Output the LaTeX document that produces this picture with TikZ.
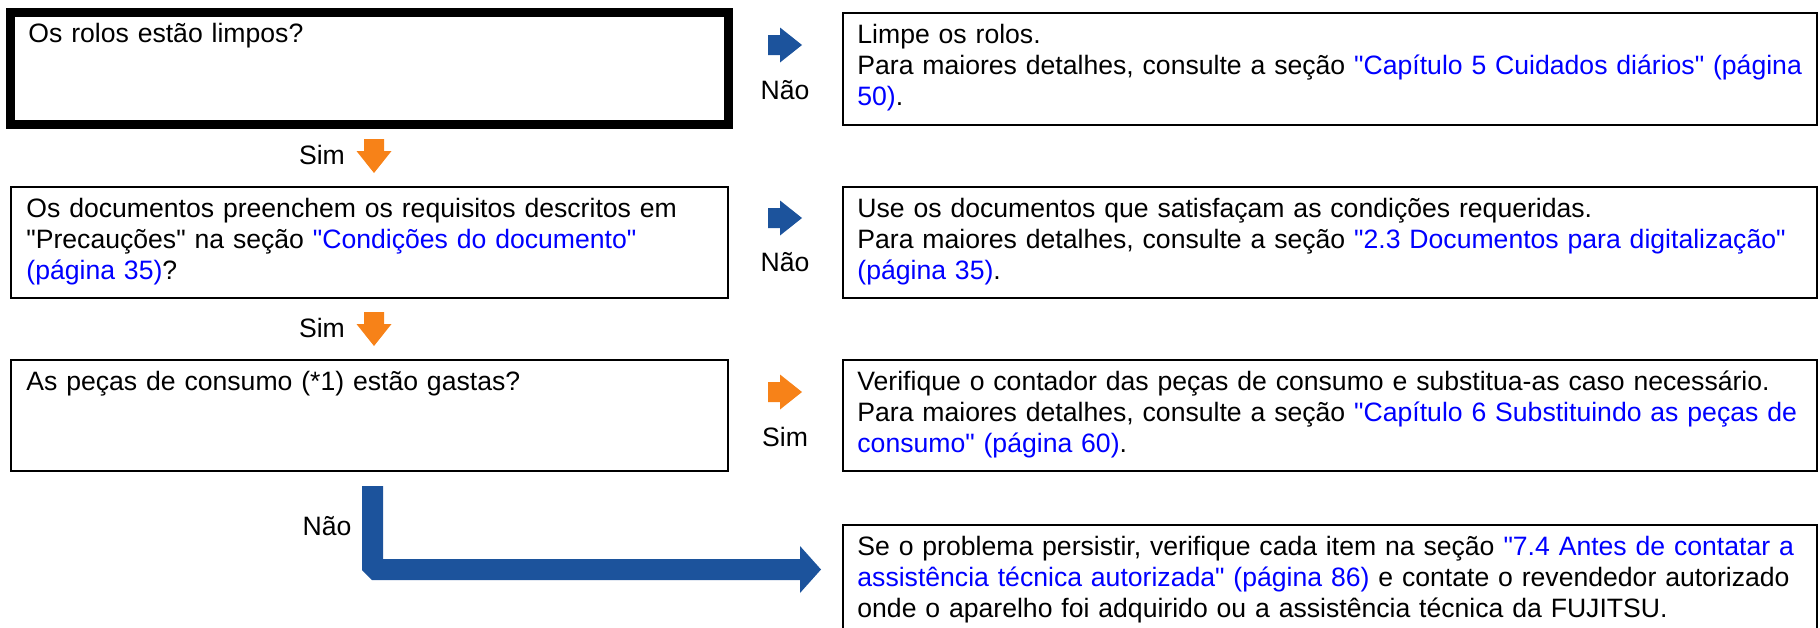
\documentclass[tikz,border=0pt]{standalone}
\usepackage{fontspec}
\setmainfont{Liberation Sans}
\usetikzlibrary{positioning,calc}
\definecolor{linkblue}{RGB}{0,0,255}
\definecolor{arrblue}{RGB}{28,83,156}
\definecolor{arrorange}{RGB}{247,130,24}
\newcommand{\lnk}[1]{\textcolor{linkblue}{#1}}
\newcommand{\dq}{\textquotedbl}

\begin{document}
\begin{tikzpicture}[x=0.5pt, y=-0.5pt,
  qbox/.style={draw, line width=1.1pt, inner sep=0pt, outer sep=0pt, anchor=north west, minimum width=358.5pt, minimum height=55.5pt},
  abox/.style={draw, line width=1.1pt, inner sep=0pt, outer sep=0pt, anchor=north west, minimum width=487pt, minimum height=55.5pt},
  txt/.style={anchor=base west, inner sep=0pt, text width=480pt, align=left, font=\fontsize{13.3pt}{15.7pt}\selectfont},
  lbl/.style={inner sep=0pt, font=\fontsize{13.3pt}{15.7pt}\selectfont},
  rblock/.pic={\fill[pic actions] (-17,-10) -- (-5,-10) -- (-5,-17.5) -- (17,0) -- (-5,17.5) -- (-5,10) -- (-17,10) -- cycle;},
  dblock/.pic={\fill[pic actions] (-10,-17) -- (10,-17) -- (10,-5) -- (17.5,-5) -- (0,17) -- (-17.5,-5) -- (-10,-5) -- cycle;},
]
\path[use as bounding box, clip] (0,0) rectangle (1820,627);

% question boxes
\node[qbox, line width=4.5pt, minimum width=359pt, minimum height=56pt] (q1) at (10,12) {};
\node[qbox] (q2) at (11,187) {};
\node[qbox] (q3) at (11,360) {};

% answer boxes
\node[abox, minimum height=56pt] (a1) at (843,13) {};
\node[abox] (a2) at (843,187) {};
\node[abox] (a3) at (843,360) {};
\node[abox, minimum height=100pt] (a4) at (843,525) {};

% texts
\node[txt] (q1t) at ($(q1.north west)+(18,30)$) {Os rolos estão limpos?};
\node[txt] (q2t) at ($(q2.north west)+(15,30)$) {Os documentos preenchem os requisitos descritos em\\
  \dq Precauções\dq{} na seção \lnk{\dq Condições do documento\dq}\\
  \lnk{(página 35)}?};
\node[txt] (q3t) at ($(q3.north west)+(15,30)$) {As peças de consumo (*1) estão gastas?};
\node[txt] (a1t) at ($(a1.north west)+(14,30)$) {Limpe os rolos.\\
  Para maiores detalhes, consulte a seção \lnk{\dq Capítulo 5 Cuidados diários\dq{} (página}\\
  \lnk{50)}.};
\node[txt] (a2t) at ($(a2.north west)+(14,30)$) {Use os documentos que satisfaçam as condições requeridas.\\
  Para maiores detalhes, consulte a seção \lnk{\dq 2.3 Documentos para digitalização\dq}\\
  \lnk{(página 35)}.};
\node[txt] (a3t) at ($(a3.north west)+(14,30)$) {Verifique o contador das peças de consumo e substitua-as caso necessário.\\
  Para maiores detalhes, consulte a seção \lnk{\dq Capítulo 6 Substituindo as peças de}\\
  \lnk{consumo\dq{} (página 60)}.};
\node[txt] (a4t) at ($(a4.north west)+(14,30)$) {Se o problema persistir, verifique cada item na seção \lnk{\dq 7.4 Antes de contatar a}\\
  \lnk{assistência técnica autorizada\dq{} (página 86)} e contate o revendedor autorizado\\
  onde o aparelho foi adquirido ou a assistência técnica da FUJITSU.};

% block arrows
\pic[fill=arrorange] at (374,156) {dblock};
\pic[fill=arrorange] at (374,329) {dblock};
\pic[fill=arrblue] at (785,45) {rblock};
\pic[fill=arrblue] at (785,218) {rblock};
\pic[fill=arrorange] at (785,392) {rblock};
\fill[arrblue] (362,486) -- (383,486) -- (383,559) -- (800,559) -- (800,546) -- (821,569.5)
  -- (800,593) -- (800,580) -- (372,580) -- (362,570) -- cycle;

% labels
\node[lbl] (s1) at (322,155) {Sim};
\node[lbl] (s2) at (322,328) {Sim};
\node[lbl] (n1) at (785,90) {Não};
\node[lbl] (n2) at (785,262) {Não};
\node[lbl] (s3) at (785,437) {Sim};
\node[lbl] (n3) at (327,526) {Não};
\end{tikzpicture}
\end{document}
